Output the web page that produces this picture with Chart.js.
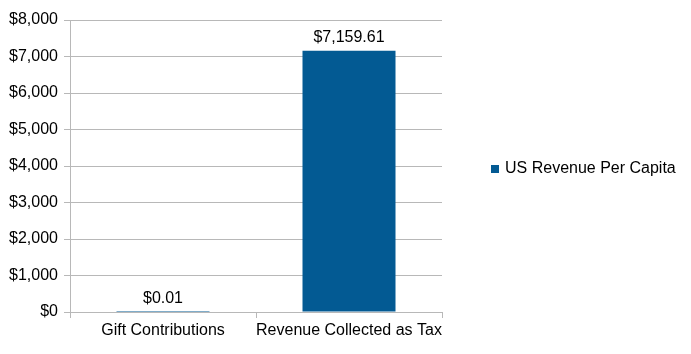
<!DOCTYPE html>
<html>
<head>
<meta charset="utf-8">
<script src="https://cdn.jsdelivr.net/npm/chart.js@4/dist/chart.umd.min.js"></script>
<style>
  html, body { margin: 0; padding: 0; background: #fff; }
  #wrap { width: 691px; height: 354px; position: relative; }
</style>
</head>
<body>
<div id="wrap"><canvas id="chart"></canvas></div>
<script>
const categories = ["Gift Contributions", "Revenue Collected as Tax"];
const series_label = "US Revenue Per Capita";
const revenue_values = [0.01, 7159.61];
const y_max = 8000;
const y_step = 1000;

const bar_colour = "#035a93";
const grid_colour = "#b8b8b8";
const font_family = "'Liberation Sans', Arial, sans-serif";
const font_size = 16;

Chart.defaults.font.family = font_family;
Chart.defaults.font.size = font_size;
Chart.defaults.color = "#000";

function money(v, decimals) {
  return "$" + Number(v).toLocaleString("en-US", {minimumFractionDigits: decimals, maximumFractionDigits: decimals});
}

// value labels above each bar
const valueLabels = {
  id: "valueLabels",
  afterDatasetsDraw(chart) {
    const ctx = chart.ctx;
    ctx.save();
    ctx.font = font_size + "px " + font_family;
    ctx.fillStyle = "#000";
    ctx.textAlign = "center";
    ctx.textBaseline = "bottom";
    chart.getDatasetMeta(0).data.forEach((bar, i) => {
      ctx.fillText(money(chart.data.datasets[0].data[i], 2), bar.x, bar.y - 5);
    });
    ctx.restore();
  }
};

// legend off to the right, like the original
const sideLegend = {
  id: "sideLegend",
  afterDraw(chart) {
    const ctx = chart.ctx;
    const area = chart.chartArea;
    const ds = chart.data.datasets[0];
    const x = area.right + 49;
    const y = (area.top + area.bottom) / 2 + 3;
    ctx.save();
    ctx.fillStyle = ds.backgroundColor;
    ctx.fillRect(x, y - 4, 8, 8);
    ctx.font = font_size + "px " + font_family;
    ctx.fillStyle = "#000";
    ctx.textAlign = "left";
    ctx.textBaseline = "middle";
    ctx.fillText(ds.label, x + 14, y);
    ctx.restore();
  }
};

new Chart(document.getElementById("chart"), {
  type: "bar",
  data: {
    labels: categories,
    datasets: [{
      label: series_label,
      data: revenue_values,
      backgroundColor: bar_colour,
      borderWidth: 0,
      categoryPercentage: 1.0,
      barPercentage: 0.5
    }]
  },
  options: {
    responsive: true,
    maintainAspectRatio: false,
    animation: false,
    layout: { padding: { top: 20, right: 249, bottom: 0, left: 8 } },
    plugins: {
      legend: { display: false },
      tooltip: { enabled: false }
    },
    scales: {
      x: {
        offset: true,
        grid: { display: true, drawOnChartArea: false, drawTicks: true, tickLength: 6, color: grid_colour },
        border: { display: false },
        ticks: { padding: 3, autoSkip: false, maxRotation: 0, minRotation: 0 },
        afterFit: (scale) => { scale.height = 42; }
      },
      y: {
        min: 0,
        max: y_max,
        ticks: {
          stepSize: y_step,
          padding: 6,
          callback: (v) => money(v, 0)
        },
        grid: { color: grid_colour, tickLength: 6 },
        border: { display: true, color: grid_colour },
        afterFit: (scale) => { scale.width = 62; }
      }
    }
  },
  plugins: [valueLabels, sideLegend]
});
</script>
</body>
</html>
